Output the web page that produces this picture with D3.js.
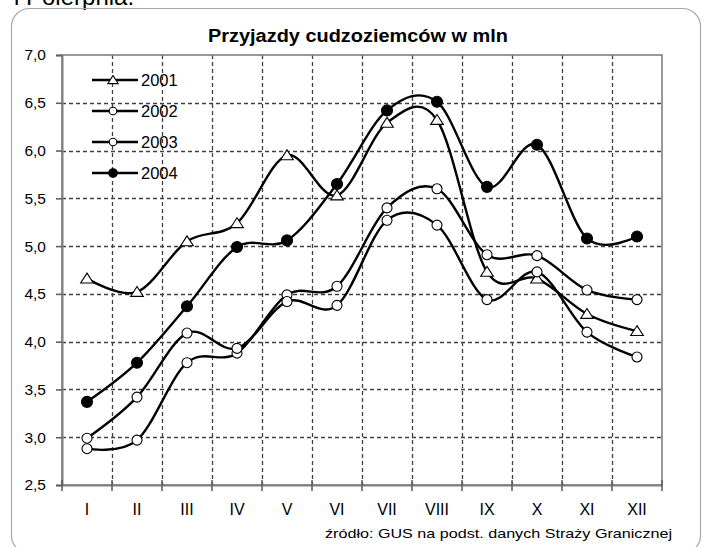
<!DOCTYPE html>
<html>
<head>
<meta charset="utf-8">
<script src="https://cdn.jsdelivr.net/npm/d3@7"></script>
<style>
  body { margin: 0; background: #fff; }
  svg { font-family: Arial, 'Liberation Sans', sans-serif; }
</style>
</head>
<body>
<svg id="chart"></svg>
<script>
const months = ["I", "II", "III", "IV", "V", "VI", "VII", "VIII", "IX", "X", "XI", "XII"]
const years = ["2001", "2002", "2003", "2004"]
const markers = ["triangle", "circle", "circle", "dot"]

const v2001 = [4.66, 4.52, 5.05, 5.24, 5.95, 5.53, 6.29, 6.32, 4.73, 4.66, 4.29, 4.11]
const v2002 = [2.88, 2.97, 3.78, 3.88, 4.49, 4.58, 5.40, 5.60, 4.91, 4.90, 4.54, 4.44]
const v2003 = [2.99, 3.42, 4.09, 3.93, 4.42, 4.38, 5.27, 5.22, 4.44, 4.73, 4.10, 3.84]
const v2004 = [3.37, 3.78, 4.37, 4.99, 5.06, 5.65, 6.42, 6.51, 5.62, 6.06, 5.08, 5.10]
const yTicks = [2.5, 3.0, 3.5, 4.0, 4.5, 5.0, 5.5, 6.0, 6.5, 7.0]

const title = "Przyjazdy cudzoziemców w mln"
const source = "źródło: GUS na podst. danych Straży Granicznej"

const W = 704, H = 547
const plot = { left: 62, right: 662, top: 55, bottom: 485 }

const series = years.map((y, i) => ({
    name: y,
    marker: markers[i],
    values: [v2001, v2002, v2003, v2004][i]
}))

const svg = d3.select('#chart').attr('width', W).attr('height', H)

const x = d3.scaleBand().domain(months).range([plot.left, plot.right]).padding(0)
const y = d3.scaleLinear().domain([2.5, 7.0]).range([plot.bottom, plot.top])

// clipped text left over from the page above the chart
svg.append('text')
    .attr('x', 14).attr('y', 5)
    .style('font-size', '24px')
    .text('i Polerpnia.')

// rounded frame, runs off the bottom edge
svg.append('rect')
    .attr('x', 11.5).attr('y', 8.5)
    .attr('width', 689).attr('height', 545)
    .attr('rx', 18)
    .attr('fill', 'none')
    .attr('stroke', '#a8a8a8')
    .attr('stroke-width', 1.2)

svg.append('text')
    .attr('x', 358).attr('y', 42)
    .attr('text-anchor', 'middle')
    .attr('textLength', 300)
    .attr('lengthAdjust', 'spacingAndGlyphs')
    .style('font-size', '18px')
    .style('font-weight', 'bold')
    .text(title)

// grid
const grid = svg.append('g')
    .attr('stroke', '#404040')
    .attr('stroke-width', 1.3)
    .attr('stroke-dasharray', '4,3')

grid.selectAll('line.h')
    .data(yTicks.filter(d => d > 2.5 && d < 7.0))
    .join('line')
    .attr('class', 'h')
    .attr('x1', plot.left).attr('x2', plot.right)
    .attr('y1', d => Math.round(y(d)) + 0.5)
    .attr('y2', d => Math.round(y(d)) + 0.5)

grid.selectAll('line.v')
    .data(months.slice(1))
    .join('line')
    .attr('class', 'v')
    .attr('x1', d => Math.round(x(d)) + 0.5)
    .attr('x2', d => Math.round(x(d)) + 0.5)
    .attr('y1', plot.top).attr('y2', plot.bottom)

// plot border
svg.append('rect')
    .attr('x', plot.left).attr('y', plot.top)
    .attr('width', plot.right - plot.left)
    .attr('height', plot.bottom - plot.top)
    .attr('fill', 'none')
    .attr('stroke', '#808080')
    .attr('stroke-width', 1.6)

// axes
const yAxis = svg.append('g')
    .attr('transform', `translate(${plot.left},0)`)
    .call(d3.axisLeft(y).tickValues(yTicks).tickSize(6).tickPadding(10)
        .tickFormat(d => d3.format('.1f')(d).replace('.', ',')))
yAxis.select('.domain').attr('stroke', '#808080').attr('stroke-width', 2)
yAxis.selectAll('.tick line').attr('stroke', '#606060').attr('stroke-width', 1.6)
yAxis.selectAll('.tick text').style('font-size', '15.5px').attr('fill', '#000')

const xAxis = svg.append('g')
    .attr('transform', `translate(0,${plot.bottom})`)
    .call(d3.axisBottom(x).tickSize(0).tickPadding(19))
xAxis.select('.domain').attr('stroke', '#808080').attr('stroke-width', 2)
xAxis.selectAll('.tick text').style('font-size', '16px').attr('fill', '#000')

svg.append('g')
    .selectAll('line')
    .data(months.map(m => x(m)).concat([plot.right]))
    .join('line')
    .attr('x1', d => d).attr('x2', d => d)
    .attr('y1', plot.bottom - 5).attr('y2', plot.bottom + 6)
    .attr('stroke', '#606060')
    .attr('stroke-width', 1.6)

svg.append('text')
    .attr('x', 672).attr('y', 538)
    .attr('text-anchor', 'end')
    .attr('textLength', 347)
    .attr('lengthAdjust', 'spacingAndGlyphs')
    .style('font-size', '13.5px')
    .text(source)

// lines
const line = d3.line()
    .x((d, i) => x(months[i]) + x.bandwidth() / 2)
    .y(d => y(d))
    .curve(d3.curveCardinal.tension(0))

svg.append('g')
    .selectAll('path')
    .data(series)
    .join('path')
    .attr('d', d => line(d.values))
    .attr('fill', 'none')
    .attr('stroke', '#000')
    .attr('stroke-width', 2.4)

function drawMarker(g, type, size) {
    if (type == 'triangle') {
        g.append('path')
            .attr('d', `M0,${-size} L${size * 1.15},${size * 0.8} L${-size * 1.15},${size * 0.8} Z`)
            .attr('fill', '#fff')
            .attr('stroke', '#000')
            .attr('stroke-width', 1.1)
    } else {
        g.append('circle')
            .attr('r', type == 'dot' ? size + 0.5 : size)
            .attr('fill', type == 'dot' ? '#000' : '#fff')
            .attr('stroke', '#000')
            .attr('stroke-width', 1.1)
    }
}

series.forEach(s => {
    s.values.forEach((v, i) => {
        const g = svg.append('g')
            .attr('transform', `translate(${x(months[i]) + x.bandwidth() / 2},${y(v)})`)
        drawMarker(g, s.marker, s.marker == 'triangle' ? 5.5 : 5)
    })
})

// legend
const legend = svg.append('g')
series.forEach((s, i) => {
    const ly = 80 + i * 31
    legend.append('line')
        .attr('x1', 92).attr('x2', 138)
        .attr('y1', ly).attr('y2', ly)
        .attr('stroke', '#000')
        .attr('stroke-width', 2.4)
    const g = legend.append('g').attr('transform', `translate(113,${ly})`)
    drawMarker(g, s.marker, s.marker == 'triangle' ? 4.5 : 3.8)
    legend.append('text')
        .attr('x', 141).attr('y', ly + 6)
        .style('font-size', '16.5px')
        .text(s.name)
})
</script>
</body>
</html>
